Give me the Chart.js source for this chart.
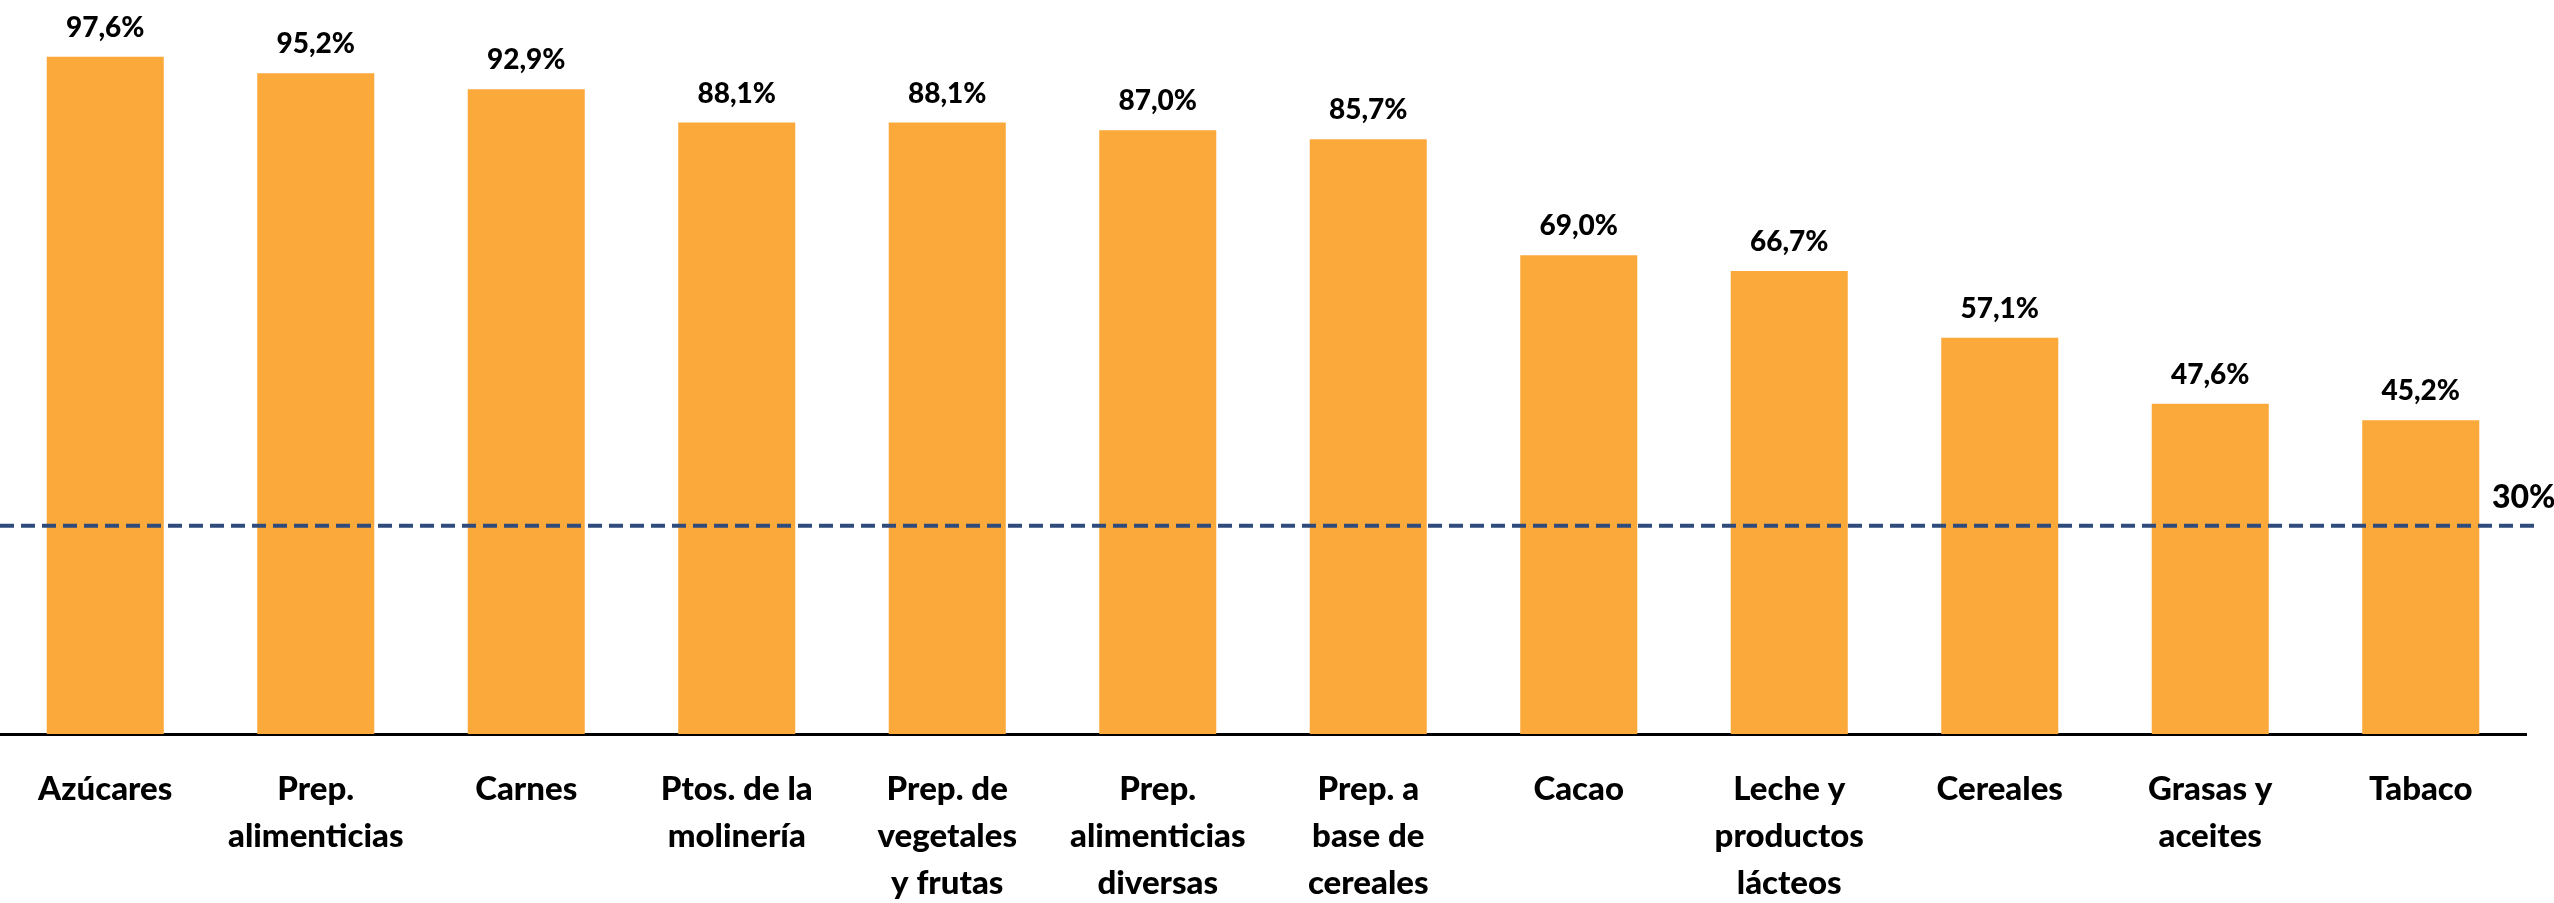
<!DOCTYPE html>
<html>
<head>
<meta charset="utf-8">
<script src="https://cdn.jsdelivr.net/npm/chart.js@4"></script>
<style>
  body { margin: 0; background: #fff; }
  #wrap { width: 2554px; height: 903px; position: relative; }
</style>
</head>
<body>
<div id="wrap"><canvas id="sharechart"></canvas></div>
<script>
const categories = [
    ["Azúcares"],
    ["Prep.", "alimenticias"],
    ["Carnes"],
    ["Ptos. de la", "molinería"],
    ["Prep. de", "vegetales", "y frutas"],
    ["Prep.", "alimenticias", "diversas"],
    ["Prep. a", "base de", "cereales"],
    ["Cacao"],
    ["Leche y", "productos", "lácteos"],
    ["Cereales"],
    ["Grasas y", "aceites"],
    ["Tabaco"]
];
const shares = [97.6, 95.2, 92.9, 88.1, 88.1, 87.0, 85.7, 69.0, 66.7, 57.1, 47.6, 45.2];
const threshold = 30;
const thresholdLabel = "30%";

const fmt = v => v.toFixed(1).replace(".", ",") + "%";

const barLabels = {
    id: "barLabels",
    afterDatasetsDraw(chart) {
        const ctx = chart.ctx;
        const meta = chart.getDatasetMeta(0);
        ctx.save();
        ctx.font = "900 28px Lato";
        ctx.fillStyle = "#000";
        ctx.textAlign = "center";
        ctx.textBaseline = "alphabetic";
        meta.data.forEach((bar, i) => {
            ctx.fillText(fmt(shares[i]), bar.x, bar.y - 20);
        });
        ctx.restore();
    }
};

const thresholdLine = {
    id: "thresholdLine",
    afterDatasetsDraw(chart) {
        const ctx = chart.ctx;
        const y = chart.scales.y.getPixelForValue(threshold);
        ctx.save();
        ctx.strokeStyle = "#2F4B7C";
        ctx.lineWidth = 4;
        ctx.setLineDash([14, 7]);
        ctx.beginPath();
        ctx.moveTo(chart.chartArea.left, y);
        ctx.lineTo(chart.chartArea.right + 12, y);
        ctx.stroke();
        ctx.setLineDash([]);
        ctx.font = "900 32px Lato";
        ctx.fillStyle = "#000";
        ctx.textAlign = "left";
        ctx.fillText(thresholdLabel, chart.chartArea.right - 34, y - 18);
        ctx.restore();
    }
};

const el = document.getElementById("sharechart");

new Chart(el, {
    type: "bar",
    data: {
        labels: categories,
        datasets: [{
            data: shares,
            backgroundColor: "#FBA93B",
            barPercentage: 0.556,
            categoryPercentage: 1
        }]
    },
    options: {
        responsive: true,
        maintainAspectRatio: false,
        animation: false,
        layout: { padding: { top: 40, right: 28, left: 0, bottom: 0 } },
        plugins: {
            legend: { display: false },
            tooltip: { enabled: false }
        },
        scales: {
            x: {
                grid: { display: false, drawTicks: false },
                border: { display: true, color: "#000", width: 3 },
                ticks: {
                    color: "#000",
                    padding: 32,
                    maxRotation: 0,
                    autoSkip: false,
                    font: { family: "Lato", size: 33, weight: 900, lineHeight: 47 / 33 }
                },
                afterFit: scale => { scale.height = 169; }
            },
            y: {
                display: false,
                min: 0,
                max: 100
            }
        }
    },
    plugins: [barLabels, thresholdLine]
});
</script>
</body>
</html>
